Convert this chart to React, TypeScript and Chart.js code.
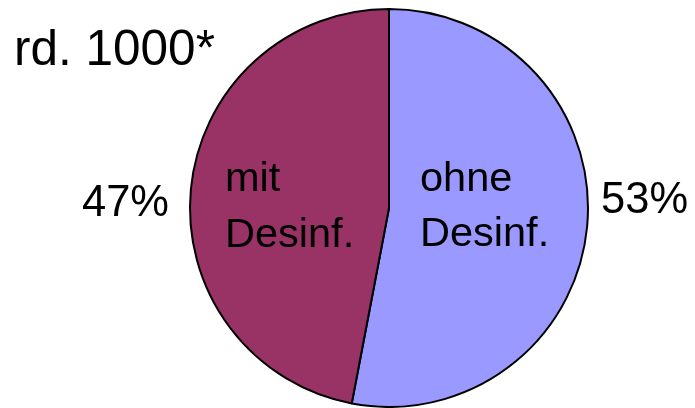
import React, { useEffect, useRef } from "react";
import { Chart, registerables } from "chart.js";

Chart.register(...registerables);

const categories = ["ohne Desinf.", "mit Desinf."];
const sliceLabels = [["ohne", "Desinf."], ["mit", "Desinf."]];
const values = [53, 47];
const colors = ["#9999FF", "#993366"];
const title = "rd. 1000*";

const FONT = "'Liberation Sans', Arial, sans-serif";

const textPlugin = {
  id: "textPlugin",
  afterDraw(chart: any) {
    const ctx = chart.ctx;
    const meta = chart.getDatasetMeta(0);
    const arc = meta.data[0];
    if (!arc) return;
    const cx = arc.x;
    const cy = arc.y;
    const r = arc.outerRadius;
    ctx.save();
    ctx.fillStyle = "#000";
    ctx.textBaseline = "alphabetic";
    // title
    ctx.font = `49.5px ${FONT}`;
    ctx.textAlign = "left";
    ctx.fillText(title, 14, 65);
    // percentages
    const total = values.reduce((a, b) => a + b, 0);
    ctx.font = `43.5px ${FONT}`;
    ctx.textAlign = "left";
    ctx.fillText(Math.round((values[0] / total) * 100) + "%", cx + r + 13, cy + 5);
    ctx.textAlign = "right";
    ctx.fillText(Math.round((values[1] / total) * 100) + "%", cx - r - 21, cy + 8);
    // inner labels
    ctx.font = `41.5px ${FONT}`;
    ctx.textAlign = "left";
    ctx.fillText(sliceLabels[0][0], cx + 31, cy - 17);
    ctx.fillText(sliceLabels[0][1], cx + 31, cy + 38);
    ctx.fillText(sliceLabels[1][0], cx - 164, cy - 17);
    ctx.fillText(sliceLabels[1][1], cx - 164, cy + 39);
    ctx.restore();
  },
};

export default function App() {
  const ref = useRef<HTMLCanvasElement>(null);
  useEffect(() => {
    if (!ref.current) return;
    const chart = new Chart(ref.current, {
      type: "pie",
      data: {
        labels: categories,
        datasets: [
          {
            data: values,
            backgroundColor: colors,
            borderColor: "#000",
            borderWidth: 2,
            hoverOffset: 0,
          },
        ],
      },
      options: {
        responsive: false,
        animation: false,
        devicePixelRatio: 1,
        layout: { padding: { left: 188, right: 105, top: 8, bottom: 0 } },
        plugins: {
          legend: { display: false },
          tooltip: { enabled: false },
          title: { display: false },
        },
      },
      plugins: [textPlugin],
    });
    return () => chart.destroy();
  }, []);
  return (
    <div style={{ position: "fixed", left: 0, top: 0, width: 695, height: 408, background: "#fff" }}>
      <canvas ref={ref} width={695} height={408} />
    </div>
  );
}
